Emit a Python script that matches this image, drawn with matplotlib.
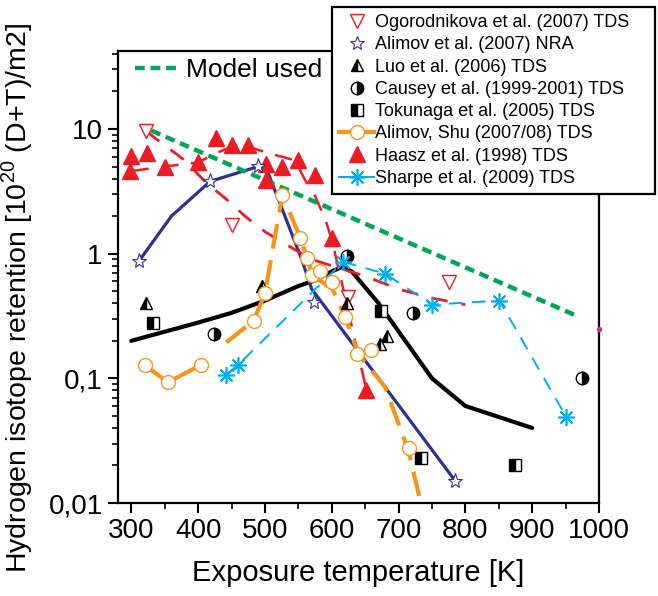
import numpy as np
import matplotlib
matplotlib.use('Agg')
import matplotlib.pyplot as plt
from matplotlib.lines import Line2D
from matplotlib.ticker import FixedLocator, FuncFormatter, LogLocator, NullFormatter

plt.rcParams['font.family'] = ['Liberation Sans', 'DejaVu Sans']
plt.rcParams['mathtext.fontset'] = 'custom'
plt.rcParams['mathtext.rm'] = 'Liberation Sans'

# model used (green dashed)
model_T = [330, 965]
model_v = [9.7, 0.32]

# Ogorodnikova et al. (2007) TDS
ogo_T = [322, 450, 625, 775]
ogo_v = [9.6, 1.7, 0.45, 0.59]
ogo_fit_T = [322, 380, 412, 440, 470, 500, 530, 570, 600, 650, 700, 750, 800]
ogo_fit_v = [9.6, 5.6, 3.7, 2.8, 2.0, 1.5, 1.2, 0.9, 0.8, 0.66, 0.52, 0.44, 0.39]

# Alimov et al. (2007) NRA
nra_T = [312, 418, 490, 573, 785]
nra_v = [0.88, 3.84, 5.05, 0.41, 0.015]
nra_line_T = [312, 360, 418, 490, 505, 540, 555, 570, 785]
nra_line_v = [0.88, 2.0, 3.8, 5.0, 4.4, 1.45, 0.9, 0.52, 0.015]

# Luo et al. (2006) TDS
luo_T = [322, 495, 623, 672, 683]
luo_v = [0.40, 0.55, 0.40, 0.19, 0.22]

# Causey et al. (1999-2001) TDS
causey_T = [423, 623, 722, 975]
causey_v = [0.225, 0.96, 0.337, 0.10]

# Tokunaga et al. (2005) TDS
toku_T = [333, 673, 733, 875]
toku_v = [0.28, 0.35, 0.023, 0.0203]

# Alimov, Shu (2007/08) TDS
shu_T = [320, 355, 405, 483, 500, 526, 553, 563, 571, 583, 601, 620, 638, 658, 715]
shu_v = [0.127, 0.093, 0.129, 0.29, 0.48, 2.96, 1.34, 0.92, 0.67, 0.73, 0.59, 0.31, 0.156, 0.17, 0.0275]
shu_low_T = [320, 355, 405]
shu_low_v = [0.127, 0.093, 0.129]
shu_high_T = [442, 483, 500, 526, 553, 563, 571, 601, 620, 640, 680, 715, 740]
shu_high_v = [0.194, 0.29, 0.48, 2.96, 1.34, 0.92, 0.67, 0.52, 0.31, 0.156, 0.085, 0.026, 0.007]

# Haasz et al. (1998) TDS
haasz_T = [300, 298, 324, 350, 400, 426, 450, 474, 501, 501, 525, 550, 575, 601, 652]
haasz_v = [6.1, 4.6, 6.4, 5.0, 5.4, 8.5, 7.4, 7.4, 5.2, 3.9, 5.0, 5.6, 4.3, 1.34, 0.08]
haasz_fit_T = [300, 350, 400, 430, 460, 510, 545, 560, 575, 590, 600, 620, 652]
haasz_fit_v = [4.6, 5.0, 5.4, 6.5, 7.6, 6.3, 5.6, 3.9, 2.9, 1.9, 1.3, 0.45, 0.08]

# Sharpe et al. (2009) TDS
sharpe_T = [441, 459, 617, 680, 750, 851, 951]
sharpe_v = [0.106, 0.127, 0.86, 0.69, 0.39, 0.42, 0.049]

# unlabelled black curve
black_T = [300, 400, 450, 500, 550, 575, 600, 615, 630, 670, 750, 800, 900]
black_v = [0.2, 0.28, 0.335, 0.42, 0.55, 0.61, 0.72, 0.78, 0.72, 0.40, 0.10, 0.06, 0.04]

RED = '#ed1c24'
NAVY = '#2e3192'
GREEN = '#00a651'
ORANGE = '#f7941d'
CYAN = '#00aeef'

fig = plt.figure(figsize=(6.58, 5.96), dpi=100)
ax = fig.add_axes([0.1793, 0.156, 0.731, 0.758])

ax.plot(model_T, model_v, color=GREEN, lw=3.2, dashes=(2.2, 1.3), zorder=3)
ax.plot(black_T, black_v, color='black', lw=3, solid_capstyle='round', zorder=2)
ax.plot(nra_line_T, nra_line_v, color=NAVY, lw=2.3, zorder=2)
ax.plot(ogo_fit_T, ogo_fit_v, color=RED, lw=2, dashes=(6, 5), zorder=2)
ax.plot(haasz_fit_T, haasz_fit_v, color=RED, lw=1.8, dashes=(7, 5), zorder=2)
ax.plot(shu_low_T, shu_low_v, color=ORANGE, lw=3, zorder=2)
ax.plot(shu_high_T, shu_high_v, color=ORANGE, lw=3, dashes=(6, 2.8), zorder=2)
ax.plot(sharpe_T, sharpe_v, color=CYAN, lw=1.4, dashes=(7, 5), zorder=2)

ax.plot(haasz_T, haasz_v, ls='none', marker='^', ms=11, color=RED, zorder=4)
ax.plot(ogo_T, ogo_v, ls='none', marker='v', ms=10, mfc='white', mec=RED, mew=1, zorder=4)
ax.plot(nra_T, nra_v, ls='none', marker='*', ms=11, mfc='white', mec=NAVY, mew=0.8, zorder=4)
ax.plot(luo_T, luo_v, ls='none', marker='^', ms=9, fillstyle='left', mfc='black',
        mfcalt='white', mec='black', mew=1, zorder=4)
ax.plot(causey_T, causey_v, ls='none', marker='o', ms=9, fillstyle='right', mfc='black',
        mfcalt='white', mec='black', mew=1, zorder=4)
ax.plot(toku_T, toku_v, ls='none', marker='s', ms=8, fillstyle='left', mfc='black',
        mfcalt='white', mec='black', mew=1, zorder=4)
ax.plot(shu_T, shu_v, ls='none', marker='o', ms=10, mfc='white', mec=ORANGE, mew=1, zorder=4)
ax.plot(sharpe_T, sharpe_v, ls='none', marker=(8, 2, 0), ms=12, mec=CYAN, mew=1.2, zorder=4)
ax.plot([1000], [0.25], ls='none', marker='o', ms=3, color='#e0258f', clip_on=False, zorder=5)

ax.set_yscale('log')
ax.set_xlim(280, 1000)
ax.set_ylim(0.01, 42)

ax.xaxis.set_major_locator(FixedLocator(np.arange(300, 1001, 100)))
ax.xaxis.set_minor_locator(FixedLocator(np.arange(350, 1000, 100)))
ax.yaxis.set_major_locator(FixedLocator([0.01, 0.1, 1, 10]))
ax.yaxis.set_minor_locator(LogLocator(base=10, subs=np.arange(2, 10)))
ax.yaxis.set_minor_formatter(NullFormatter())
ylabels = {0.01: '0,01', 0.1: '0,1', 1: '1', 10: '10'}
ax.yaxis.set_major_formatter(FuncFormatter(lambda v, p: ylabels.get(round(v, 3), '')))

ax.tick_params(which='major', direction='out', length=7, width=1.5, labelsize=20, pad=4)
ax.tick_params(which='minor', direction='out', length=4, width=1.2)
for s in ax.spines.values():
    s.set_linewidth(1.6)

ax.set_xlabel('Exposure temperature [K]', fontsize=21)
ax.xaxis.set_label_coords(0.5, -0.125)
ax.set_ylabel(r'Hydrogen isotope retention [10$^{\mathregular{20}}$ (D+T)/m2]', fontsize=20.5)
ax.yaxis.set_label_coords(-0.172, 0.453)

# model legend
model_leg = ax.legend(handles=[Line2D([], [], color=GREEN, lw=3.2, dashes=(2.2, 1.3))],
                      labels=['Model used'], loc='center left',
                      bbox_to_anchor=(135 / 658, 1 - 70 / 596), bbox_transform=fig.transFigure,
                      frameon=False, fontsize=19, handlelength=1.65, handletextpad=0.3,
                      borderpad=0, borderaxespad=0)

handles = [
    Line2D([], [], ls='none', marker='v', ms=10, mfc='white', mec=RED),
    Line2D([], [], ls='none', marker='*', ms=10, mfc='white', mec=NAVY, mew=0.8),
    Line2D([], [], ls='none', marker='^', ms=9, fillstyle='left', mfc='black', mfcalt='white', mec='black'),
    Line2D([], [], ls='none', marker='o', ms=9, fillstyle='right', mfc='black', mfcalt='white', mec='black'),
    Line2D([], [], ls='none', marker='s', ms=8, fillstyle='left', mfc='black', mfcalt='white', mec='black'),
    Line2D([], [], color=ORANGE, lw=3, marker='o', ms=10, mfc='white', mec=ORANGE),
    Line2D([], [], ls='none', marker='^', ms=11, color=RED),
    Line2D([], [], color=CYAN, lw=1.4, marker=(8, 2, 0), ms=12, mec=CYAN, mew=1.2),
]
labels = ['Ogorodnikova et al. (2007) TDS', 'Alimov et al. (2007) NRA', 'Luo et al. (2006) TDS',
          'Causey et al. (1999-2001) TDS', 'Tokunaga et al. (2005) TDS', 'Alimov, Shu (2007/08) TDS',
          'Haasz et al. (1998) TDS', 'Sharpe et al. (2009) TDS']
leg = fig.legend(handles, labels, loc='upper left', mode='expand',
                 bbox_to_anchor=(332 / 658, 1 - 195 / 596, 323 / 658, 188 / 596),
                 fontsize=13, handlelength=1.95, handletextpad=0.05, labelspacing=0.29,
                 borderpad=0.4, borderaxespad=0, fancybox=False, framealpha=1,
                 edgecolor='black')
leg.get_frame().set_linewidth(1.6)
leg.set_zorder(10)

fig.savefig('out.png', dpi=100)
